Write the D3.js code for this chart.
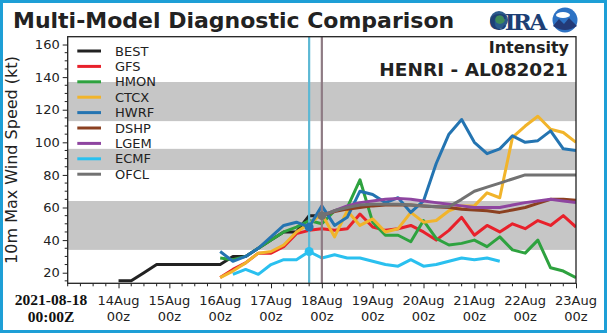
<!DOCTYPE html>
<html><head><meta charset="utf-8">
<script src="https://cdn.jsdelivr.net/npm/d3@7/dist/d3.min.js"></script>
<style>body{margin:0;background:#fff}svg{display:block}</style>
</head><body><svg id="c" width="607" height="333"></svg>
<script>
// ---------- data ----------
const seriesNames  = ["BEST","GFS","HMON","CTCX","HWRF","DSHP","LGEM","ECMF","OFCL"];
const seriesColors = ["#222222","#e8212b","#2ea23f","#f1b42b","#2474b1","#8b4020","#8e45a0","#2ac0ef","#727272"];
const seriesStarts = ["2021-08-14T00:00:00Z","2021-08-16T00:00:00Z","2021-08-16T00:00:00Z","2021-08-16T00:00:00Z",
                      "2021-08-16T00:00:00Z","2021-08-18T00:00:00Z","2021-08-18T00:00:00Z","2021-08-16T06:00:00Z","2021-08-18T00:00:00Z"];
const stepHours = 6;
const bestValues = [15,15,20,25,25,25,25,25,25,30,30,35,40,45,45,55,55];
const gfsValues  = [17,22,26,32,32,36,44,46,47,46,47,56,48,46,47,49,45,40,46,54,43,49,45,50,47,52,49,55,48];
const hmonValues = [29,28,30,35,40,45,48,52,50,58,60,77,51,43,43,39,52,41,37,38,40,36,42,34,32,40,23,21,17];
const ctcxValues = [17,21,26,32,33,37,45,50,56,42,58,49,53,45,47,57,51,52,58,61,61,69,66,103,110,116,108,106,100];
const hwrfValues = [33,27,30,35,42,49,51,48,61,49,54,70,68,63,66,57,64,87,105,114,100,93,96,104,100,101,107,96,95];
const dshpValues = [55,57.5,59,60,61,61.5,61.5,61.5,61,60.5,60,59,58.5,58,57,58.5,60,62.5,65,65,64.5];
const lgemValues = [55,58,61,63,64,65,65.5,65,64,63,62,61,60,60,60,61.5,63,64,65,64,63];
const ecmfValues = [19,22,19,25,28,28,33,29,31,29,29,27,25,24,28,24,25,27,29,28,29,27];
const ofclValues = [55,58,60,61.5,62,62,62,61.5,61,60.5,60.5,65,70,72.5,75,77.5,80,80,80,80,80];
const allValues = [bestValues,gfsValues,hmonValues,ctcxValues,hwrfValues,dshpValues,lgemValues,ecmfValues,ofclValues];

const markerNames = ["HWRF","ECMF","OFCL"];
const markerTimes = ["2021-08-17T18:00:00Z","2021-08-17T18:00:00Z","2021-08-18T00:00:00Z"];
const markerValues = [48,33,55];

const initLineTimes  = ["2021-08-17T18:00:00Z","2021-08-18T00:00:00Z"];
const initLineColors = ["#5cb8d4","#8e7b84"];

const bandRanges = [[34,64],[83,96],[113,137]];
const yTickValues = [20,40,60,80,100,120,140,160];
const xDomain = ["2021-08-13T00:00:00Z","2021-08-23T00:00:00Z"];
const yDomain = [13.5,164.8];

const titleText = "Multi-Model Diagnostic Comparison";
const subTitle1 = "Intensity";
const subTitle2 = "HENRI - AL082021";
const yLabel = "10m Max Wind Speed (kt)";
const refLabel = ["2021-08-18","00:00Z"];

// ---------- drawing ----------
const svg = d3.select("#c");
const L = 67.7, R = 576, T = 36.7, B = 283.3;
const x = d3.scaleUtc().domain(xDomain.map(d => new Date(d))).range([L, R]);
const y = d3.scaleLinear().domain(yDomain).range([B, T]);
const font = "DejaVu Sans, sans-serif";
const ink = "#222";

// outer border
svg.append("rect").attr("x",1.5).attr("y",1.5).attr("width",604).attr("height",330)
  .attr("fill","#fff").attr("stroke","#1e9fd6").attr("stroke-width",3);

// title
svg.append("text").attr("x",13).attr("y",28).attr("font-family",font).attr("font-weight","bold")
  .attr("font-size",22).attr("fill",ink).text(titleText);

// logo (approximation)
const logo = svg.append("g");
logo.append("circle").attr("cx",499).attr("cy",20).attr("r",9).attr("fill","#2a5a8c");
logo.append("circle").attr("cx",500).attr("cy",19).attr("r",5).attr("fill","#3f8a5a");
logo.append("text").attr("x",489).attr("y",30).attr("font-family","DejaVu Serif, serif").attr("font-weight","bold")
  .attr("font-size",23).attr("fill","#1d3f75").attr("textLength",58).text("CIRA");
logo.append("circle").attr("cx",565).attr("cy",20).attr("r",12.5).attr("fill","#2d72c4");
logo.append("ellipse").attr("cx",563).attr("cy",15).attr("rx",7).attr("ry",3).attr("fill","#fff");
logo.append("path").attr("d","M553,26 L559,19 L564,24 L569,18 L577,26 Q565,34 553,26Z").attr("fill","#233a78");

// clip
svg.append("defs").append("clipPath").attr("id","pc").append("rect")
  .attr("x",L).attr("y",T).attr("width",R-L).attr("height",B-T);
const plot = svg.append("g").attr("clip-path","url(#pc)");

// bands
plot.selectAll("rect.band").data(bandRanges).join("rect").attr("class","band")
  .attr("x",L).attr("width",R-L).attr("y",d => y(d[1])).attr("height",d => y(d[0]) - y(d[1]))
  .attr("fill","#c6c6c6");

// series lines
const line = d3.line().x(d => x(d.t)).y(d => y(d.v));
const seriesData = seriesNames.map((name,i) => {
  const t0 = new Date(seriesStarts[i]);
  return {name, color: seriesColors[i],
    pts: allValues[i].map((v,k) => ({t: d3.utcHour.offset(t0, k*stepHours), v}))};
});
plot.selectAll("path.s").data(seriesData).join("path").attr("class","s")
  .attr("d", d => line(d.pts)).attr("fill","none").attr("stroke", d => d.color)
  .attr("stroke-width",3).attr("stroke-linejoin","round");

// init lines
plot.selectAll("line.init").data(initLineTimes).join("line").attr("class","init")
  .attr("x1", d => x(new Date(d))).attr("x2", d => x(new Date(d))).attr("y1",T).attr("y2",B)
  .attr("stroke",(d,i) => initLineColors[i]).attr("stroke-width",2.2);

// markers
plot.selectAll("circle.m").data(markerNames).join("circle").attr("class","m")
  .attr("cx",(d,i) => x(new Date(markerTimes[i]))).attr("cy",(d,i) => y(markerValues[i]))
  .attr("r",4.5).attr("fill", d => seriesColors[seriesNames.indexOf(d)]);

// frame
svg.append("rect").attr("x",L).attr("y",T).attr("width",R-L).attr("height",B-T)
  .attr("fill","none").attr("stroke",ink).attr("stroke-width",1.3);

// y axis
const yAx = d3.axisLeft(y).tickValues(yTickValues).tickSize(5).tickPadding(3);
const yg = svg.append("g").attr("transform",`translate(${L},0)`).call(yAx);
yg.select(".domain").remove();
yg.selectAll("text").attr("font-family",font).attr("font-size",13).attr("fill",ink);
yg.selectAll("line").attr("stroke",ink);
const yMinor = d3.range(15,165,5).filter(v => v % 20 !== 0);
svg.append("g").selectAll("line").data(yMinor).join("line")
  .attr("x1",L-3).attr("x2",L).attr("y1",d => y(d)).attr("y2",d => y(d)).attr("stroke",ink);

// x axis
const xMajor = d3.utcDay.range(new Date("2021-08-14T00:00:00Z"), new Date("2021-08-23T01:00:00Z"));
const xAx = d3.axisBottom(x).tickValues(xMajor).tickSize(5).tickFormat("");
const xg = svg.append("g").attr("transform",`translate(0,${B})`).call(xAx);
xg.select(".domain").remove();
xg.selectAll("line").attr("stroke",ink);
const xMinor = d3.utcHour.every(6).range(new Date(xDomain[0]), new Date("2021-08-23T01:00:00Z"))
  .filter(d => d.getUTCHours() !== 0 || +d === +new Date(xDomain[0]));
svg.append("g").selectAll("line").data(xMinor).join("line")
  .attr("x1",d => x(d)).attr("x2",d => x(d)).attr("y1",B).attr("y2",B+3).attr("stroke",ink);
const fmt = d3.utcFormat("%d%b");
const xl = svg.append("g").selectAll("text").data(xMajor).join("text")
  .attr("x", d => x(d)).attr("text-anchor","middle").attr("font-family",font).attr("font-size",13).attr("fill",ink);
xl.append("tspan").attr("x", d => x(d)).attr("y",304.5).text(d => fmt(d));
xl.append("tspan").attr("x", d => x(d)).attr("y",321).text("00z");

// reference label
svg.append("g").selectAll("text").data(refLabel).join("text")
  .attr("x",51).attr("y",(d,i) => i ? 321.7 : 305).attr("text-anchor","middle")
  .attr("font-family","Liberation Serif, serif").attr("font-weight","bold").attr("font-size",15.5)
  .attr("fill","#111").text(d => d);

// y label
svg.append("text").attr("transform","translate(16.5,160) rotate(-90)").attr("text-anchor","middle")
  .attr("font-family",font).attr("font-size",16).attr("fill",ink).text(yLabel);

// subtitles
svg.append("text").attr("x",569).attr("y",53.3).attr("text-anchor","end").attr("font-family",font)
  .attr("font-weight","bold").attr("font-size",16).attr("fill",ink).text(subTitle1);
svg.append("text").attr("x",568).attr("y",75.7).attr("text-anchor","end").attr("font-family",font)
  .attr("font-weight","bold").attr("font-size",18.5).attr("fill",ink).text(subTitle2);

// legend
const lg = svg.append("g").selectAll("g").data(seriesNames).join("g")
  .attr("transform",(d,i) => `translate(0,${51 + i*15.4})`);
lg.append("line").attr("x1",77.3).attr("x2",101).attr("stroke",(d,i) => seriesColors[i]).attr("stroke-width",3);
lg.append("text").attr("x",115).attr("dy","0.36em").attr("font-family",font).attr("font-size",13)
  .attr("fill",ink).text(d => d);
</script></body></html>
